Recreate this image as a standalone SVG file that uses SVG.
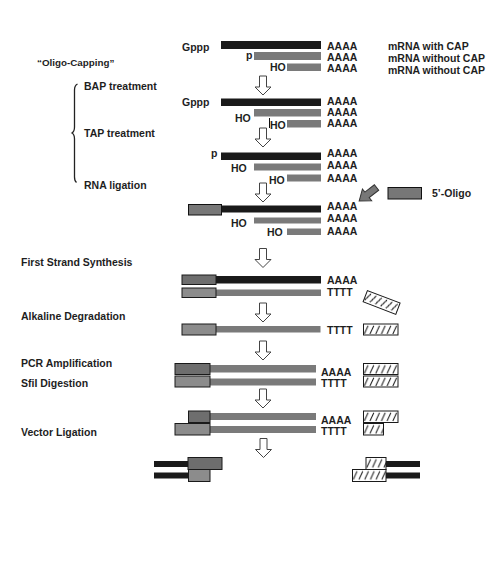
<svg xmlns="http://www.w3.org/2000/svg" width="497" height="565" viewBox="0 0 497 565">
<style>
text{font-family:"Liberation Sans",Arial,sans-serif;font-size:10.5px;font-weight:bold;fill:#1e1e1e}
.reg{font-size:9.8px}
.blk{fill:#1a1a1a}
.gry{fill:#7a7a7a}
.bx1{fill:#6e6e6e;stroke:#1a1a1a;stroke-width:1}
.bx2{fill:#8c8c8c;stroke:#1a1a1a;stroke-width:1}
.hat{fill:url(#hatch);stroke:#1a1a1a;stroke-width:1}
.arr{fill:#fff;stroke:#444;stroke-width:1}
</style>
<defs>
<pattern id="hatch" patternUnits="userSpaceOnUse" width="5.7" height="30">
<line x1="0.8" y1="10" x2="4.6" y2="1.8" stroke="#1a1a1a" stroke-width="1"/>
</pattern>
<path id="dn" d="M-3.5,0 H3.5 V11 H8 L0,19 L-8,11 H-3.5 Z"/>
</defs>
<rect width="497" height="565" fill="#fff"/>

<g id="labels-left">
<text class="reg" x="37" y="65.5">“Oligo-Capping”</text>
<text x="84" y="90">BAP treatment</text>
<text x="84" y="137">TAP treatment</text>
<text x="84" y="188.5">RNA ligation</text>
<path d="M77.5,84 Q74.5,85.5 74.5,90 L74.5,127 Q74.5,131.5 72,133 Q74.5,134.5 74.5,139 L74.5,177 Q74.5,181 76.5,182.5" fill="none" stroke="#222" stroke-width="1.3"/>
<text x="21" y="265.5">First Strand Synthesis</text>
<text x="21" y="320">Alkaline Degradation</text>
<text x="21" y="367">PCR Amplification</text>
<text x="21" y="386.5">SfiI Digestion</text>
<text x="21" y="436">Vector Ligation</text>
</g>

<g id="start">
<text x="182" y="51">Gppp</text>
<rect class="blk" x="221" y="41" width="100" height="8"/>
<text x="246" y="59">p</text>
<rect class="gry" x="254" y="52" width="67" height="8"/>
<text x="270" y="71">HO</text>
<rect class="gry" x="287" y="63.5" width="34" height="7.5"/>
<text x="327" y="49.5">AAAA</text>
<text x="327" y="60.5">AAAA</text>
<text x="327" y="71.5">AAAA</text>
<text x="388" y="50">mRNA with CAP</text>
<text x="388" y="62">mRNA without CAP</text>
<text x="388" y="74">mRNA without CAP</text>
</g>

<g id="bap">
<text x="182" y="106">Gppp</text>
<rect class="blk" x="221" y="98.5" width="100" height="7.5"/>
<text x="235" y="121.5">HO</text>
<rect class="gry" x="254" y="109" width="67" height="7.5"/>
<text x="270" y="129">HO</text>
<rect class="gry" x="287" y="120" width="34" height="7.5"/>
<line x1="269.5" y1="118" x2="269.5" y2="128" stroke="#111" stroke-width="1"/>
<text x="327" y="104.5">AAAA</text>
<text x="327" y="116">AAAA</text>
<text x="327" y="127">AAAA</text>
</g>

<g id="tap">
<text x="211" y="157">p</text>
<rect class="blk" x="221" y="152.5" width="100" height="7.5"/>
<text x="231" y="172">HO</text>
<rect class="gry" x="254" y="163.5" width="67" height="7"/>
<text x="269" y="184">HO</text>
<rect class="gry" x="287" y="174.5" width="34" height="7"/>
<text x="327" y="157">AAAA</text>
<text x="327" y="168.5">AAAA</text>
<text x="327" y="181.5">AAAA</text>
</g>

<g id="ligation">
<rect class="blk" x="221.5" y="205.5" width="99.5" height="7"/>
<rect x="188.5" y="204.5" width="33" height="10.5" fill="#777" stroke="#111" stroke-width="1"/>
<text x="231" y="226.5">HO</text>
<rect class="gry" x="254" y="217.5" width="67" height="6"/>
<text x="267" y="235.5">HO</text>
<rect class="gry" x="287" y="228.5" width="34" height="6.5"/>
<text x="327" y="210">AAAA</text>
<text x="327" y="222">AAAA</text>
<text x="327" y="235">AAAA</text>
</g>

<g id="oligo">
<polygon points="0,-3.5 12,-3.5 12,-7.5 22,0 12,7.5 12,3.5 0,3.5" transform="translate(376.5,187.5) rotate(142)" fill="#777" stroke="#333" stroke-width="1"/>
<rect x="388" y="187.5" width="33.5" height="11.5" fill="#777" stroke="#111" stroke-width="1"/>
<text x="432" y="197">5’-Oligo</text>
</g>

<g id="first-strand">
<rect class="blk" x="216" y="276" width="105" height="7.5"/>
<rect class="bx1" x="182" y="275" width="34" height="9.5"/>
<rect class="gry" x="216" y="289.5" width="105" height="6.5"/>
<rect class="bx2" x="182" y="288" width="34" height="9.5"/>
<text x="327" y="283.5">AAAA</text>
<text x="327" y="296">TTTT</text>
<g transform="translate(381.6,302.4) rotate(21) translate(-17.5,-6)"><rect class="hat" x="0" y="0" width="35" height="12"/></g>
</g>

<g id="alkaline">
<rect class="gry" x="216" y="326" width="104.5" height="6.5"/>
<rect class="bx2" x="182" y="324" width="34" height="11"/>
<text x="327" y="333.5">TTTT</text>
<g transform="translate(363.5,324)"><rect class="hat" width="34.5" height="11"/></g>
</g>

<g id="pcr">
<rect class="gry" x="210" y="365" width="106" height="7.5"/>
<rect class="bx1" x="175" y="363.5" width="35" height="11"/>
<rect class="gry" x="210" y="378.5" width="106" height="7"/>
<rect class="bx2" x="175" y="376" width="35" height="11"/>
<text x="321" y="375.5">AAAA</text>
<text x="321" y="387">TTTT</text>
<g transform="translate(363.5,363.5)"><rect class="hat" width="34.5" height="11"/></g>
<g transform="translate(363.5,376)"><rect class="hat" width="34.5" height="11"/></g>
</g>

<g id="sfii">
<rect class="gry" x="210" y="413" width="106" height="7"/>
<rect class="bx1" x="188.5" y="411" width="21.5" height="11.5" fill="#666"/>
<rect class="gry" x="210" y="426" width="106" height="7"/>
<rect class="bx2" x="175" y="423.5" width="35" height="11.5"/>
<text x="321" y="424">AAAA</text>
<text x="321" y="435">TTTT</text>
<g transform="translate(363.5,411)"><rect class="hat" width="34.5" height="11.5"/></g>
<g transform="translate(363.5,423.5)"><rect class="hat" width="20" height="11.5"/></g>
</g>

<g id="vector">
<rect class="blk" x="154" y="461" width="34" height="6"/>
<rect class="bx1" x="188" y="457.5" width="34" height="12"/>
<rect class="blk" x="154" y="472.5" width="34" height="6"/>
<rect class="bx2" x="188.5" y="469.5" width="21.5" height="12"/>
<rect class="blk" x="386" y="461" width="34" height="6"/>
<g transform="translate(366,457.5)"><rect class="hat" width="20" height="12"/></g>
<rect class="blk" x="386" y="472.5" width="34" height="6"/>
<g transform="translate(352.5,469.5)"><rect class="hat" width="33.5" height="12"/></g>
</g>

<g id="connectors">
<use href="#dn" class="arr" x="263" y="76"/>
<use href="#dn" class="arr" x="263" y="128"/>
<use href="#dn" class="arr" x="263" y="183"/>
<use href="#dn" class="arr" x="263" y="248.5"/>
<use href="#dn" class="arr" x="263" y="303"/>
<use href="#dn" class="arr" x="263" y="341"/>
<use href="#dn" class="arr" x="263" y="389"/>
<use href="#dn" class="arr" x="263.5" y="438.5"/>
</g>
</svg>
